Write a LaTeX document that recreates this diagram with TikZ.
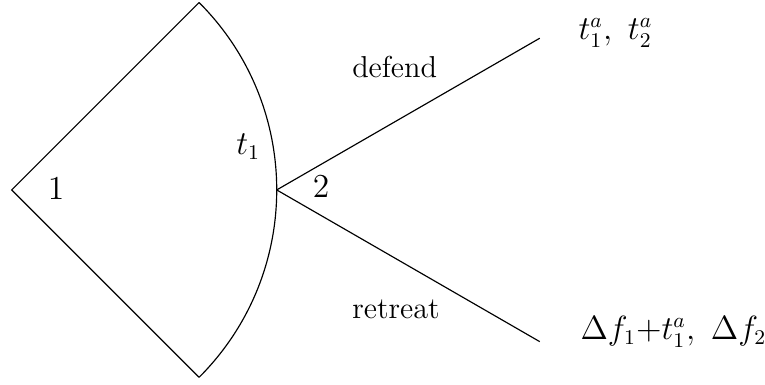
\documentclass[tikz,border=0pt]{standalone}
\usepackage{amsmath,amssymb}
\usepackage{tikz}
\usetikzlibrary{positioning,calc}

\begin{document}
\begin{tikzpicture}[font=\fontsize{13}{15.6}\selectfont,
  edge/.style={line width=0.5pt},
  lbl/.style={inner sep=0pt},
  mlbl/.style={inner sep=0pt, font=\fontsize{13.4}{16}\selectfont}]
  \useasboundingbox (-0.177,-2.943) rectangle (11.37,2.867);

  % decision points
  \coordinate (n1) at (0,0);
  \coordinate (n2) at (4,0);
  \coordinate (up) at (45:4);
  \coordinate (lo) at (-45:4);
  \coordinate (tdef) at (7.97,2.29);
  \coordinate (tret) at (7.97,-2.29);

  % first mover: continuum of offers
  \draw[edge] (lo) -- (n1) -- (up);
  \draw[edge] (up) arc[start angle=45, end angle=-45, radius=4];
  \node[mlbl] (p1) at (0.67,0.02) {$1$};
  \node[mlbl] (offer) at (3.57,0.66) {$t_1$};

  % second mover
  \draw[edge] (n2) -- (tdef);
  \draw[edge] (n2) -- (tret);
  \node[mlbl] (p2) at (4.67,0.05) {$2$};
  \node[lbl] (def) at (5.78,1.86) {defend};
  \node[lbl] (ret) at (5.80,-1.80) {retreat};

  % payoffs
  \node[mlbl, anchor=west] (pdef) at (8.55,2.37) {$t_1^a,\ t_2^a$};
  \node[mlbl, anchor=west] (pret) at (8.58,-2.14) {$\Delta f_1{+}t_1^a,\ \Delta f_2$};
\end{tikzpicture}
\end{document}
